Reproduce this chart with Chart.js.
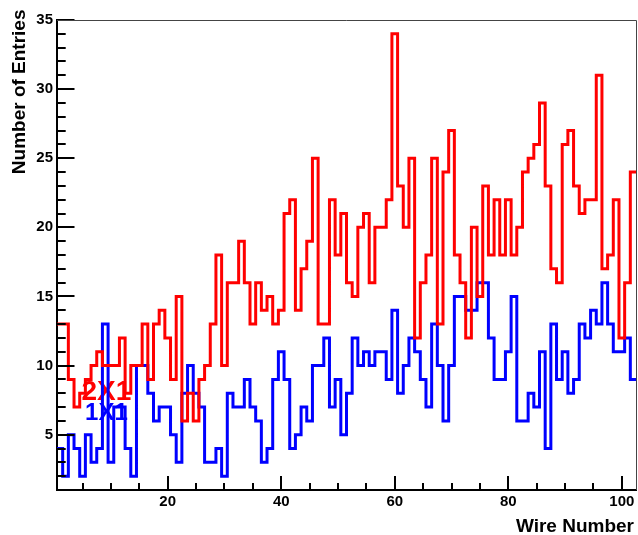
<!DOCTYPE html>
<html>
<head>
<meta charset="utf-8">
<title>Wire Number</title>
<script src="https://cdn.jsdelivr.net/npm/chart.js@4.4.0/dist/chart.umd.min.js"></script>
<style>
  html, body { margin: 0; padding: 0; background: #fff; }
  canvas { display: block; }
</style>
</head>
<body>
<canvas id="chart" width="638" height="535"></canvas>
<script>
// entries per wire, wires 1..102
const wires = Array.from({ length: 102 }, (_, i) => i + 1);

const entries2x1 = [
  13, 13, 9, 7, 8, 9, 10, 11, 10, 10,
  10, 12, 8, 10, 10, 13, 9, 13, 14, 12,
  9, 15, 6, 8, 6, 9, 10, 13, 18, 10,
  16, 16, 19, 16, 13, 16, 14, 15, 13, 14,
  21, 22, 14, 17, 19, 25, 13, 13, 22, 18,
  21, 16, 15, 20, 21, 16, 20, 20, 22, 34,
  23, 20, 25, 12, 16, 18, 25, 13, 24, 27,
  18, 16, 12, 20, 15, 23, 18, 22, 18, 22,
  18, 20, 24, 25, 26, 29, 23, 17, 16, 26,
  27, 23, 21, 22, 22, 31, 17, 18, 22, 12,
  16, 24
];

const entries1x1 = [
  4, 2, 5, 4, 2, 5, 3, 4, 13, 3,
  7, 7, 4, 2, 10, 10, 8, 6, 7, 7,
  5, 3, 8, 10, 8, 7, 3, 3, 4, 2,
  8, 7, 7, 9, 7, 6, 3, 4, 9, 11,
  9, 4, 5, 7, 6, 10, 10, 12, 7, 9,
  5, 8, 12, 10, 11, 10, 11, 11, 9, 14,
  8, 10, 12, 11, 9, 7, 13, 10, 6, 10,
  15, 15, 14, 14, 16, 16, 12, 9, 9, 11,
  15, 6, 6, 8, 7, 11, 4, 13, 9, 11,
  8, 9, 13, 12, 14, 13, 16, 13, 11, 11,
  12, 9
];

const xTickLabels = [20, 40, 60, 80, 100];
const yTickLabels = [5, 10, 15, 20, 25, 30, 35];

const FONT = '"Liberation Sans", Arial, Helvetica, sans-serif';

// histogram outline: one point per lower bin edge, plus the last upper edge
function histPoints(values) {
  const pts = values.map((v, i) => ({ x: wires[i] - 0.5, y: v }));
  pts.push({ x: wires[wires.length - 1] + 0.5, y: values[values.length - 1] });
  return pts;
}

// ROOT-like frame: ticks inside, titles, labels on the pad
const rootFrame = {
  id: 'rootFrame',
  beforeDatasetsDraw(chart) {
    const { ctx, scales: { x, y } } = chart;
    ctx.save();
    ctx.textBaseline = 'alphabetic';
    ctx.textAlign = 'left';
    ctx.fillStyle = '#ff0000';
    ctx.font = 'bold 28px ' + FONT;
    ctx.fillText('2X1', x.getPixelForValue(4.8), y.getPixelForValue(7.5));
    ctx.fillStyle = '#0000ff';
    ctx.font = 'bold 24px ' + FONT;
    ctx.fillText('1X1', x.getPixelForValue(5.45), y.getPixelForValue(6.05));
    ctx.restore();
  },
  afterDraw(chart) {
    const { ctx, chartArea: a, scales: { x, y } } = chart;
    ctx.save();
    ctx.strokeStyle = '#000';
    ctx.lineWidth = 2;
    ctx.beginPath();
    // x ticks: major every 20, minor every 5
    for (let v = 5; v <= 102; v += 5) {
      const px = Math.round(x.getPixelForValue(v));
      const len = v % 20 === 0 ? 14 : 7;
      ctx.moveTo(px, a.bottom);
      ctx.lineTo(px, a.bottom - len);
    }
    // y ticks: major every 5, minor every 1
    for (let v = 2; v <= 35; v++) {
      const py = Math.round(y.getPixelForValue(v));
      const len = v % 5 === 0 ? 17.5 : 8.7;
      ctx.moveTo(a.left, py);
      ctx.lineTo(a.left + len, py);
    }
    ctx.stroke();

    // top and right side of the frame
    ctx.lineWidth = 1;
    ctx.strokeStyle = '#444';
    ctx.beginPath();
    ctx.moveTo(a.left, a.top + 0.5);
    ctx.lineTo(a.right + 0.5, a.top + 0.5);
    ctx.lineTo(a.right + 0.5, a.bottom);
    ctx.stroke();

    // axis titles
    ctx.fillStyle = '#000';
    ctx.font = 'bold 19px ' + FONT;
    ctx.textAlign = 'right';
    ctx.textBaseline = 'alphabetic';
    ctx.fillText('Wire Number', 634, 532);

    ctx.translate(24.5, 9.5);
    ctx.rotate(-Math.PI / 2);
    ctx.fillText('Number of Entries', 0, 0);
    ctx.restore();
  }
};

new Chart(document.getElementById('chart'), {
  type: 'line',
  data: {
    datasets: [
      {
        label: '2X1',
        data: histPoints(entries2x1),
        borderColor: '#ff0000',
        borderWidth: 3,
        stepped: true,
        fill: false,
        pointRadius: 0,
        borderJoinStyle: 'miter',
        borderCapStyle: 'butt'
      },
      {
        label: '1X1',
        data: histPoints(entries1x1),
        borderColor: '#0000ff',
        borderWidth: 3,
        stepped: true,
        fill: false,
        pointRadius: 0,
        borderJoinStyle: 'miter',
        borderCapStyle: 'butt'
      }
    ]
  },
  options: {
    responsive: false,
    animation: false,
    devicePixelRatio: 1,
    layout: { padding: { top: 20, right: 2, left: 0, bottom: 0 } },
    plugins: {
      legend: { display: false },
      tooltip: { enabled: false }
    },
    scales: {
      x: {
        type: 'linear',
        min: 0.5,
        max: 102.5,
        afterBuildTicks: s => { s.ticks = xTickLabels.map(v => ({ value: v })); },
        afterFit: s => { s.height = 45; },
        grid: { display: false, drawTicks: false },
        border: { display: true, color: '#000', width: 2 },
        ticks: {
          color: '#000',
          font: { family: FONT, size: 15, weight: 'bold' },
          padding: 3,
          maxRotation: 0,
          autoSkip: false
        }
      },
      y: {
        type: 'linear',
        min: 1,
        max: 35,
        afterBuildTicks: s => { s.ticks = yTickLabels.map(v => ({ value: v })); },
        afterFit: s => { s.width = 57; },
        grid: { display: false, drawTicks: false },
        border: { display: true, color: '#000', width: 2 },
        ticks: {
          color: '#000',
          font: { family: FONT, size: 15, weight: 'bold' },
          padding: 4,
          autoSkip: false
        }
      }
    }
  },
  plugins: [rootFrame]
});
</script>
</body>
</html>
